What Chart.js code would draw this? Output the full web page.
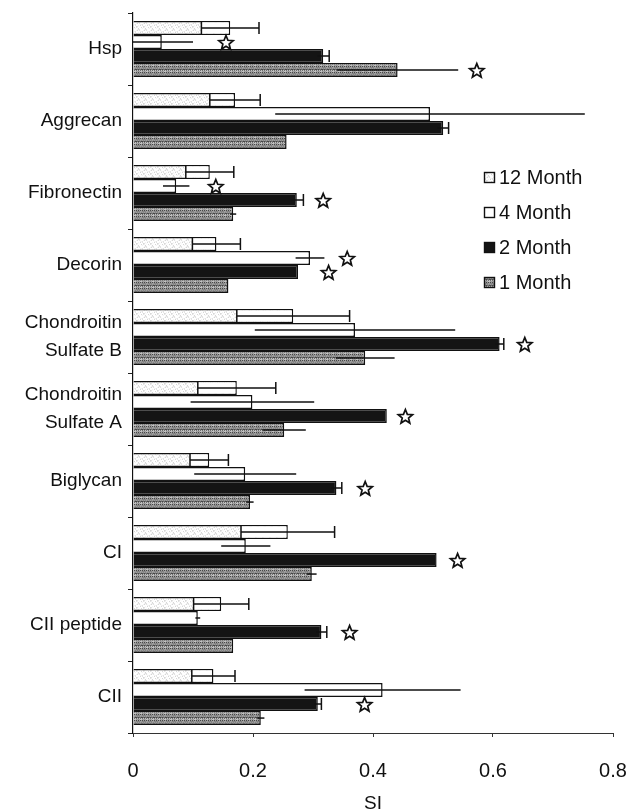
<!DOCTYPE html>
<html>
<head>
<meta charset="utf-8">
<script src="https://cdn.jsdelivr.net/npm/chart.js@4.4.1/dist/chart.umd.min.js"></script>
<style>
  html, body { margin: 0; padding: 0; background: #ffffff; }
  #wrap { width: 631px; height: 812px; position: relative; }
</style>
</head>
<body>
<div id="wrap"><canvas id="chart" width="631" height="812"></canvas></div>
<script>
// Matrix components, top to bottom
const categories = [
  'Hsp', 'Aggrecan', 'Fibronectin', 'Decorin',
  ['Chondroitin', 'Sulfate B'], ['Chondroitin', 'Sulfate A'],
  'Biglycan', 'CI', 'CII peptide', 'CII'
];
const seriesLabels = ['12 Month', '4 Month', '2 Month', '1 Month'];

// Mean SI per time point
const month12 = [0.162, 0.170, 0.128, 0.139, 0.267, 0.173, 0.127, 0.258, 0.147, 0.134];
const month4  = [0.048, 0.495, 0.072, 0.295, 0.370, 0.199, 0.187, 0.188, 0.108, 0.416];
const month2  = [0.317, 0.517, 0.273, 0.275, 0.611, 0.423, 0.339, 0.506, 0.314, 0.308];
const month1  = [0.441, 0.256, 0.167, 0.159, 0.387, 0.252, 0.195, 0.298, 0.167, 0.213];

// Standard deviations
const month12Err = [0.048, 0.042, 0.040, 0.040, 0.094, 0.065, 0.032, 0.078, 0.046, 0.036];
const month4Err  = [0.052, 0.258, 0.022, 0.024, 0.167, 0.103, 0.085, 0.041, 0.004, 0.130];
const month2Err  = [0.010, 0.009, 0.011, 0.000, 0.007, 0.000, 0.009, 0.000, 0.009, 0.006];
const month1Err  = [0.101, 0.000, 0.005, 0.000, 0.049, 0.036, 0.006, 0.008, 0.000, 0.006];

// Significance markers (position on the SI axis, null = none)
const month12Star = [null, null, null, null, null, null, null, null, null, null];
const month4Star  = [0.155, null, 0.138, 0.357, null, null, null, null, null, null];
const month2Star  = [null, null, 0.317, 0.326, 0.653, 0.454, 0.387, 0.541, 0.361, 0.386];
const month1Star  = [0.573, null, null, null, null, null, null, null, null, null];

const FONT = '"Liberation Sans", Arial, Helvetica, sans-serif';
Chart.defaults.font.family = FONT;

// Deterministic dither textures for the shaded bars
function ditherPattern(tones, size) {
  const c = document.createElement('canvas');
  c.width = size; c.height = size;
  const g = c.getContext('2d');
  for (let y = 0; y < size; y++) {
    for (let x = 0; x < size; x++) {
      const k = (x * 5 + y * 3 + ((x * y) % 4) + ((x ^ y) & 1)) % tones.length;
      g.fillStyle = tones[k];
      g.fillRect(x, y, 1, 1);
    }
  }
  return g.createPattern(c, 'repeat');
}
const ctx = document.getElementById('chart').getContext('2d');
const lightSpeckle = ditherPattern(['#ffffff', '#e2e2e2', '#ffffff', '#f2f2f2', '#ffffff', '#d6d6d6', '#fbfbfb'], 7);
const greySpeckle = ditherPattern(['#474747', '#9e9e9e', '#6e6e6e', '#c2c2c2', '#848484'], 6);

// Error-bar cap settings per series: [cap at minus end, cap at plus end]
const capStyle = [[true, true], [false, false], [false, true], [false, false]];

function makeSet(i, data, errs, stars, fill) {
  return {
    label: seriesLabels[i],
    data: data,
    errors: errs,
    stars: stars,
    backgroundColor: fill,
    borderColor: '#111111',
    borderWidth: 1.5,
    borderSkipped: 'start'
  };
}

const errorBars = {
  id: 'errorBars',
  afterDatasetsDraw(chart) {
    const c = chart.ctx;
    const xs = chart.scales.x;
    c.save();
    chart.data.datasets.forEach((ds, di) => {
      const meta = chart.getDatasetMeta(di);
      const [capMinus, capPlus] = capStyle[di];
      meta.data.forEach((bar, i) => {
        const e = ds.errors[i];
        if (!e) return;
        const v = ds.data[i];
        const p = bar.getProps(['x', 'y', 'base', 'height'], true);
        const xm = xs.getPixelForValue(Math.max(0, v - e));
        const xp = xs.getPixelForValue(v + e);
        const half = p.height / 2;
        if (capMinus) {
          // lower-SD part of the bar shown without texture
          c.fillStyle = '#ffffff';
          c.fillRect(xm, p.y - half + 1.5, p.x - xm - 1.5, p.height - 3);
        }
        c.strokeStyle = '#111111';
        c.lineWidth = 1.5;
        c.beginPath();
        c.moveTo(xm, p.y);
        c.lineTo(xp, p.y);
        if (capPlus) {
          c.moveTo(xp, p.y - half * 0.85);
          c.lineTo(xp, p.y + half * 0.85);
        }
        if (capMinus) {
          c.moveTo(xm, p.y - half);
          c.lineTo(xm, p.y + half);
        }
        c.stroke();
      });
    });
    c.restore();
  }
};

function starPath(c, cx, cy, ro, ri) {
  c.beginPath();
  for (let k = 0; k < 10; k++) {
    const r = k % 2 === 0 ? ro : ri;
    const a = -Math.PI / 2 + k * Math.PI / 5;
    const px = cx + r * Math.cos(a), py = cy + r * Math.sin(a);
    if (k === 0) c.moveTo(px, py); else c.lineTo(px, py);
  }
  c.closePath();
}

const starMarks = {
  id: 'starMarks',
  afterDatasetsDraw(chart) {
    const c = chart.ctx;
    const xs = chart.scales.x;
    c.save();
    chart.data.datasets.forEach((ds, di) => {
      const meta = chart.getDatasetMeta(di);
      meta.data.forEach((bar, i) => {
        const s = ds.stars[i];
        if (s === null || s === undefined) return;
        const p = bar.getProps(['y'], true);
        starPath(c, xs.getPixelForValue(s), p.y + 1, 7.5, 3.3);
        c.fillStyle = '#ffffff';
        c.fill();
        c.strokeStyle = '#111111';
        c.lineWidth = 1.7;
        c.lineJoin = 'miter';
        c.stroke();
      });
    });
    c.restore();
  }
};

const boxLegend = {
  id: 'boxLegend',
  afterDraw(chart) {
    const c = chart.ctx;
    const a = chart.chartArea;
    const x0 = a.left + 351;
    const y0 = a.top + 164;
    const step = 35;
    c.save();
    chart.data.datasets.forEach((ds, i) => {
      const y = y0 + i * step;
      c.fillStyle = ds.backgroundColor;
      c.fillRect(x0, y - 5, 11, 11);
      c.strokeStyle = '#111111';
      c.lineWidth = 1.4;
      c.strokeRect(x0 + 0.5, y - 4.5, 10, 10);
      c.fillStyle = '#111111';
      c.font = '20px ' + FONT;
      c.textBaseline = 'middle';
      c.textAlign = 'left';
      c.fillText(ds.label, x0 + 15, y + 1);
    });
    c.restore();
  }
};

new Chart(ctx, {
  type: 'bar',
  data: {
    labels: categories,
    datasets: [
      makeSet(0, month12, month12Err, month12Star, lightSpeckle),
      makeSet(1, month4, month4Err, month4Star, '#ffffff'),
      makeSet(2, month2, month2Err, month2Star, '#141414'),
      makeSet(3, month1, month1Err, month1Star, greySpeckle)
    ]
  },
  options: {
    indexAxis: 'y',
    responsive: false,
    animation: false,
    devicePixelRatio: 1,
    categoryPercentage: 0.78,
    barPercentage: 1.0,
    layout: { padding: { top: 13, right: 18, bottom: 0, left: 0 } },
    plugins: {
      legend: { display: false },
      tooltip: { enabled: false }
    },
    scales: {
      y: {
        type: 'category',
        grid: { display: true, drawOnChartArea: false, drawTicks: true, tickLength: 5, color: '#222222', offset: true },
        border: { display: true, color: '#111111', width: 1.2 },
        ticks: { color: '#111111', font: { size: 19, family: FONT, lineHeight: 1.45 }, padding: 6, autoSkip: false },
        afterFit(s) { s.width = 133; s.paddingTop = 0; s.paddingBottom = 0; }
      },
      x: {
        type: 'linear',
        min: 0,
        max: 0.8,
        grid: { display: true, drawOnChartArea: false, drawTicks: true, tickLength: 4, color: '#333333' },
        border: { display: true, color: '#333333', width: 1 },
        ticks: {
          stepSize: 0.2,
          color: '#111111',
          font: { size: 20, family: FONT },
          padding: 22,
          callback: (v) => String(Number(Number(v).toFixed(1)))
        },
        title: { display: true, text: 'SI', color: '#111111', font: { size: 19, family: FONT }, padding: { top: 0, bottom: -3 } },
        afterFit(s) { s.height = 79; s.paddingLeft = 0; s.paddingRight = 0; }
      }
    }
  },
  plugins: [errorBars, starMarks, boxLegend]
});
</script>
</body>
</html>
